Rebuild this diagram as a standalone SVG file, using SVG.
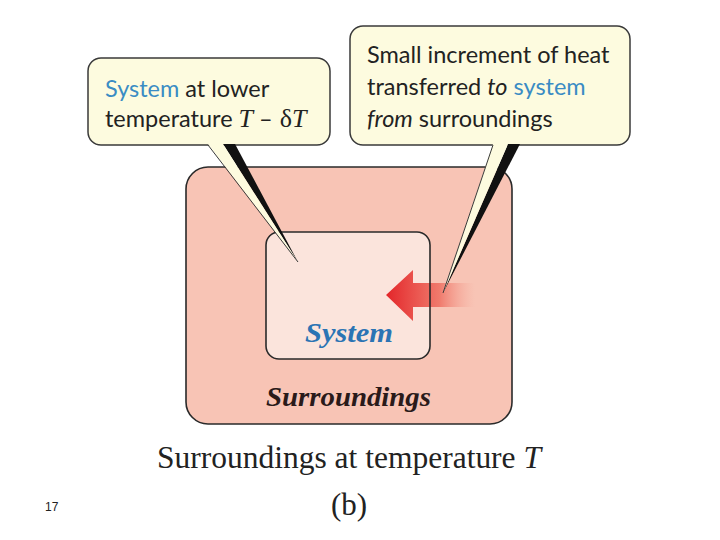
<svg xmlns="http://www.w3.org/2000/svg" width="720" height="540" viewBox="0 0 720 540">
<style>
.callout{fill:#fdfbdf;stroke:#3a3a3a;stroke-width:1.5}
.ctext{font-family:Lato,"Open Sans",sans-serif;font-size:23.5px;fill:#222}
.blue{fill:#3a8cc4}
.it{font-style:italic}
.serif{font-family:"Liberation Serif","DejaVu Serif",serif;font-size:26px}
.big{font-family:"Liberation Serif","DejaVu Serif",serif;font-size:28px;font-weight:bold;font-style:italic}
.cap{font-family:"Liberation Serif","DejaVu Serif",serif;font-size:31px;fill:#222}
</style>
<defs>
<linearGradient id="heat" x1="386" y1="0" x2="475" y2="0" gradientUnits="userSpaceOnUse">
<stop offset="0" stop-color="#e3262a"/>
<stop offset="0.6" stop-color="#f07a6c"/>
<stop offset="1" stop-color="#f8c4b5" stop-opacity="0.4"/>
</linearGradient>
</defs>
<rect width="720" height="540" fill="#ffffff"/>
<g id="surroundings">
<rect x="186" y="167" width="326" height="257" rx="22" fill="#f8c4b5" stroke="#2a2a2a" stroke-width="1.6"/>
<text class="big" x="266" y="406" textLength="165" lengthAdjust="spacingAndGlyphs" fill="#2a1a1a">Surroundings</text>
</g>
<g id="system">
<rect x="266" y="232" width="164" height="127" rx="13" fill="#fbe4dc"/>
</g>
<g id="connectors">
<path d="M386,295 L413,270 L413,283 L475,283 L475,307 L413,307 L413,321 Z" fill="url(#heat)"/>
</g>
<g id="system-outline">
<rect x="266" y="232" width="164" height="127" rx="13" fill="none" stroke="#2a2a2a" stroke-width="1.6"/>
<text class="big" x="305" y="342" textLength="88" lengthAdjust="spacingAndGlyphs" fill="#2b74b4">System</text>
</g>
<g id="callout-left">
<rect class="callout" x="88" y="58" width="242" height="87" rx="13"/>
<polygon points="223,144 235,144 298,262" fill="#111"/>
<polygon points="208,144 223,144 298,262" fill="#fdfbdf"/>
<line x1="208" y1="145" x2="298" y2="262" stroke="#3a3a3a" stroke-width="1"/>
<text class="ctext" x="105" y="97"><tspan class="blue">System</tspan> at lower</text>
<text class="ctext" x="105" y="127">temperature <tspan class="serif it">T</tspan><tspan dx="6">–</tspan><tspan class="serif" dx="7">δ</tspan><tspan class="serif it">T</tspan></text>
</g>
<g id="callout-right">
<rect class="callout" x="350" y="26" width="280" height="119" rx="13"/>
<polygon points="508,144 520,144 443,293" fill="#111"/>
<polygon points="493,144 508,144 443,293" fill="#fdfbdf"/>
<line x1="493" y1="145" x2="443" y2="293" stroke="#3a3a3a" stroke-width="1"/>
<text class="ctext" x="367" y="63">Small increment of heat</text>
<text class="ctext" x="367" y="95">transferred <tspan class="it">to</tspan> <tspan class="blue">system</tspan></text>
<text class="ctext" x="367" y="127"><tspan class="it">from</tspan> surroundings</text>
</g>
<g id="caption">
<text class="cap" x="157" y="468" textLength="384" lengthAdjust="spacingAndGlyphs">Surroundings at temperature <tspan class="it">T</tspan></text>
<text class="cap" x="349" y="515" text-anchor="middle">(b)</text>
<text x="45" y="511" font-family="Liberation Sans,Arial,sans-serif" font-size="12" fill="#222">17</text>
</g>
</svg>
